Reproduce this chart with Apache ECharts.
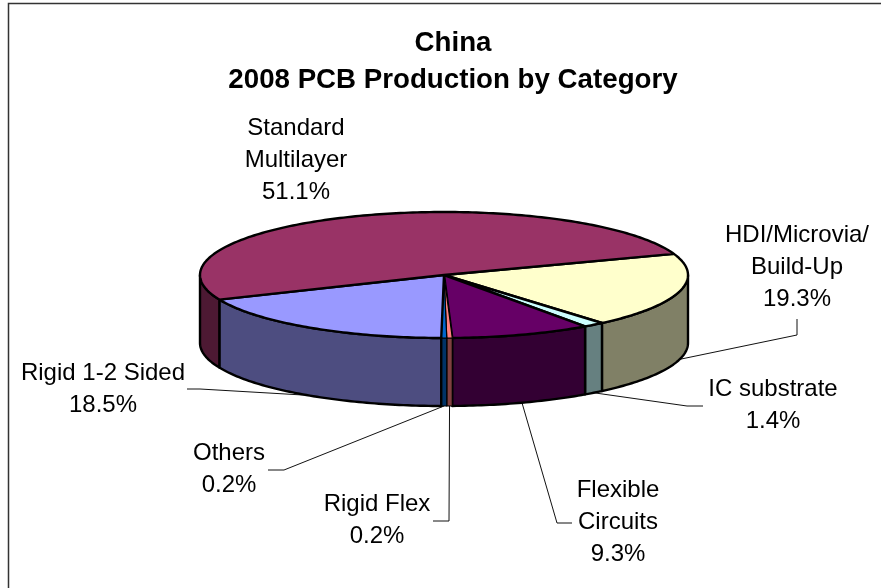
<!DOCTYPE html>
<html><head><meta charset="utf-8">
<style>html,body{margin:0;padding:0;background:#fff}#c{width:881px;height:588px}</style>
<script src="https://cdn.jsdelivr.net/npm/echarts@6/dist/echarts.min.js"></script>
</head><body><div id="c"></div>
<script>
// --- data, clockwise from the Standard Multilayer / HDI boundary
const categories = ['HDI/Microvia/ Build-Up','IC substrate','Flexible Circuits','Rigid Flex','Others','Rigid 1-2 Sided','Standard Multilayer'];
const shares = [19.3,1.4,9.3,0.2,0.2,18.5,51.1];
const labelLines = [['HDI/Microvia/','Build-Up'],['IC substrate'],['Flexible','Circuits'],['Rigid Flex'],['Others'],['Rigid 1-2 Sided'],['Standard','Multilayer']];
const topColors = ['#FFFFCC','#CCFFFF','#660066','#FF8080','#0066CC','#9999FF','#993366'];
const sideColors = ['#808066','#668080','#330033','#804040','#003366','#4D4D80','#4D1933'];
// --- layout of the drawing
const PIE = {cx:444, cy:275, rx:244, ry:63, depth:68, start:70.4, minAngle:1.3};
const labelCenter = [[797,267],[773,405],[618,522],[377,520],[229,469],[103,389],[296,160]];
const leaderTail = [[[797,335],[797,319]],[[687,406],[703,406]],[[557,523],[572,523]],[[449,521],[433,521]],[[284,470],[268,470]],[[200,389],[187,389]],null];
const LABEL_FONT = 24, TITLE_FONT = 27.7, LINE_H = 32;

// angular sweeps with a minimum angle for very thin slices, like a pie's minAngle
const sweeps = (function(){
  const raw = shares.map(v=>v*3.6);
  const thin = raw.filter(a=>a<PIE.minAngle);
  const wide = raw.filter(a=>a>=PIE.minAngle).reduce((s,a)=>s+a,0);
  const k = (360-thin.length*PIE.minAngle)/wide;
  return raw.map(a=>a<PIE.minAngle?PIE.minAngle:a*k);
})();
function bounds(i){
  let a = PIE.start;
  for(let k=0;k<i;k++) a += sweeps[k];
  return [a, a+sweeps[i]];
}
function rim(deg,dy){
  const r = deg*Math.PI/180;
  return [PIE.cx+PIE.rx*Math.sin(r), PIE.cy-PIE.ry*Math.cos(r)+(dy||0)];
}
function arc(a0,a1,dy){
  const n = Math.max(2,Math.ceil(Math.abs(a1-a0)));
  const pts = [];
  for(let k=0;k<=n;k++) pts.push(rim(a0+(a1-a0)*k/n,dy));
  return pts;
}
function renderSlice(params,api){
  const i = api.value(0);
  const [a0,a1] = bounds(i);
  const children = [];
  const s0 = Math.max(a0,90), s1 = Math.min(a1,270);
  const line = {stroke:'#000',lineWidth:sweeps[i]<2?1.2:2.4,lineJoin:'round'};
  if(s1>s0){
    children.push({type:'polygon',shape:{points:arc(s0,s1,0).concat(arc(s1,s0,PIE.depth))},
      style:Object.assign({fill:sideColors[i]},line)});
  }
  children.push({type:'polygon',shape:{points:[[PIE.cx,PIE.cy]].concat(arc(a0,a1,0))},
    style:Object.assign({fill:topColors[i]},line)});
  return {type:'group',children};
}
function renderLeader(params,api){
  const i = api.value(0);
  if(!leaderTail[i]) return null;
  const [a0,a1] = bounds(i);
  const start = rim((a0+a1)/2,PIE.depth);
  return {type:'polyline',shape:{points:[start].concat(leaderTail[i])},
    style:{fill:null,stroke:'#111',lineWidth:1}};
}
function renderLabel(params,api){
  const i = api.value(0);
  const text = labelLines[i].concat([api.value(1).toFixed(1)+'%']).join('\n');
  return {type:'text',style:{x:labelCenter[i][0],y:labelCenter[i][1],text,
    fontFamily:'"Liberation Sans",Arial,sans-serif',fontSize:LABEL_FONT,lineHeight:LINE_H,
    fill:'#000',align:'center',verticalAlign:'middle'}};
}
const seriesData = shares.map((v,i)=>[i,v,categories[i]]);
const chart = echarts.init(document.getElementById('c'),null,{renderer:'canvas'});
chart.setOption({
  animation:false,
  backgroundColor:'#fff',
  title:{text:'China\n2008 PCB Production by Category',left:453,top:25,padding:0,textAlign:'center',
    textStyle:{fontFamily:'"Liberation Sans",Arial,sans-serif',fontWeight:'bold',fontSize:TITLE_FONT,lineHeight:37,color:'#000'}},
  graphic:[{type:'polyline',silent:true,shape:{points:[[8.5,588],[8.5,3.5],[881,3.5]]},style:{fill:null,stroke:'#333',lineWidth:1.5}}],
  series:[
    {type:'custom',coordinateSystem:'none',silent:true,z:1,data:seriesData,renderItem:renderLeader},
    {type:'custom',coordinateSystem:'none',silent:true,z:2,data:seriesData,renderItem:renderSlice},
    {type:'custom',coordinateSystem:'none',silent:true,z:3,data:seriesData,renderItem:renderLabel}
  ]
});
</script></body></html>
